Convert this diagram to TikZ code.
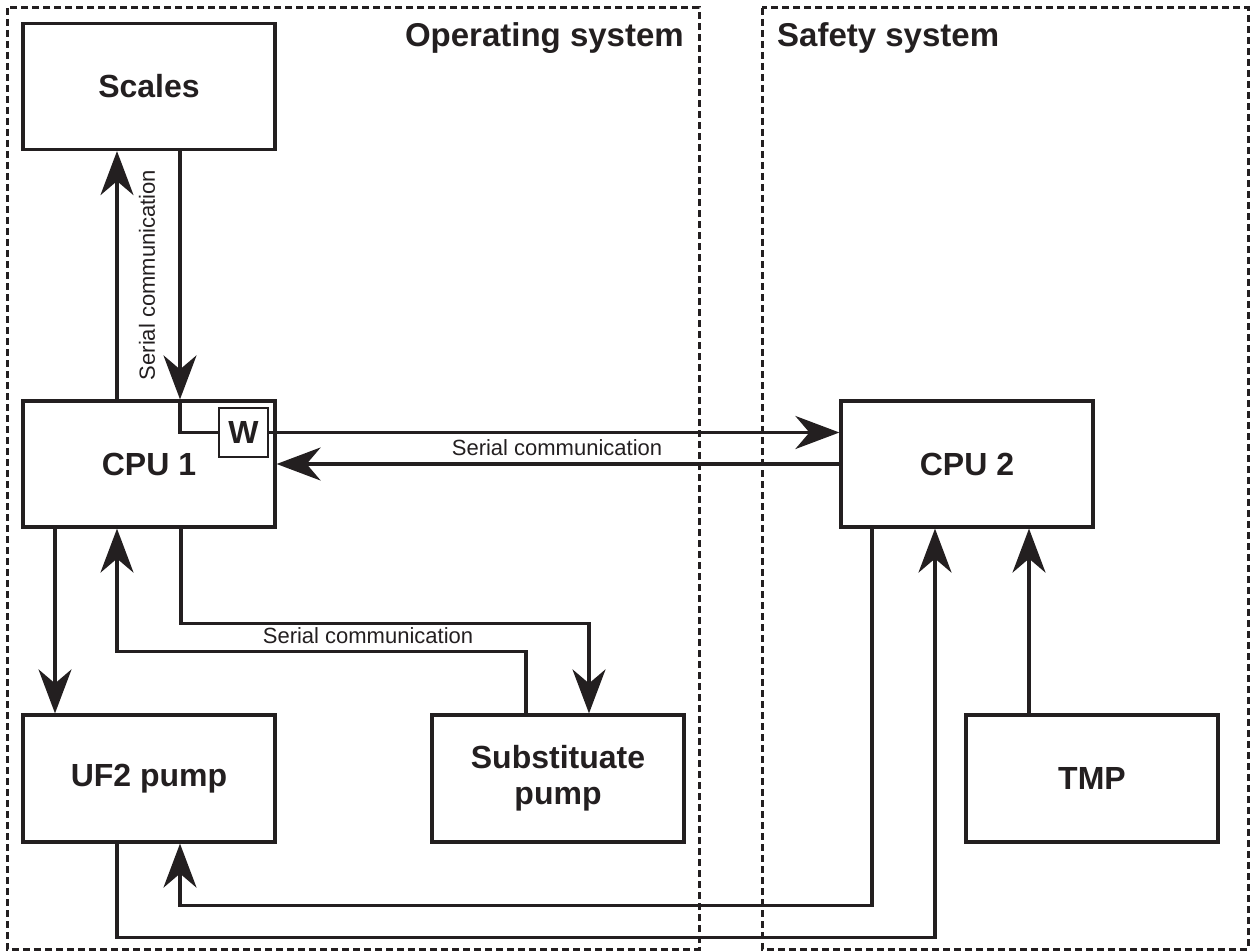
\documentclass[tikz,border=0pt]{standalone}
\usepackage{fontspec}
\setmainfont{Liberation Sans}
\usetikzlibrary{arrows.meta}
\definecolor{ink}{RGB}{35,31,32}
\tikzset{
  box/.style={draw=ink, text=ink, line width=3.2pt, minimum width=252pt, minimum height=126pt,
    font=\fontsize{32}{36}\selectfont\bfseries, align=center, inner sep=0pt},
  wbox/.style={draw=ink, text=ink, line width=2.8pt, minimum size=49pt, inner sep=0pt,
    font=\fontsize{32}{36}\selectfont\bfseries},
  link/.style={draw=ink, line width=3.2pt},
  arr/.style={link, -{Stealth[length=44pt,width=33pt,inset=14pt]}},
  frame/.style={draw=ink, line width=3pt, dash pattern=on 7pt off 4pt},
  title/.style={text=ink, font=\fontsize{33}{38}\selectfont\bfseries, inner sep=0pt},
  note/.style={text=ink, font=\fontsize{22}{26}\selectfont, inner sep=0pt},
}
\begin{document}
\begin{tikzpicture}[x=1pt, y=-1pt]
\useasboundingbox (0,0) rectangle (1250,952);

% system frames
\draw[frame] (7,8) rectangle (699,949);
\draw[frame] (762,8) rectangle (1248,949);
\node[title, anchor=base east] (ostitle) at (684,47) {Operating system};
\node[title, anchor=base west] (sstitle) at (777,47) {Safety system};

% units
\node[box] (scales) at (149,86.5) {Scales};
\node[box] (cpu1) at (149,464) {CPU 1};
\node[box] (cpu2) at (967,464) {CPU 2};
\node[box, minimum height=127pt] (uf2) at (149,778.5) {UF2 pump};
\node[box, minimum height=127pt] (subst) at (558,778.5) {Substituate\\pump};
\node[box, minimum height=127pt] (tmp) at (1092,778.5) {TMP};
\node[wbox] (w) at (243.5,432.5) {W};

% scales <-> CPU 1
\draw[arr] ([xshift=-32pt]cpu1.north) -- ([xshift=-32pt]scales.south);
\draw[arr] ([xshift=31pt]scales.south) -- ([xshift=31pt]cpu1.north);
\draw[link] ([xshift=31pt]cpu1.north) |- (w.west);
\node[note, rotate=90] (sc1) at (147,275) {Serial communication};

% CPU 1 <-> CPU 2
\draw[arr] (w.east) -- (w.east -| cpu2.west);
\draw[arr] (cpu2.west) -- (cpu1.east);
\node[note] (sc2) at (557,448) {Serial communication};

% CPU 1 <-> pumps
\draw[arr] ([xshift=-94pt]cpu1.south) -- ([xshift=-94pt]uf2.north);
\draw[arr] ([xshift=-32pt]subst.north) -- ++(0,-62) -| ([xshift=-32pt]cpu1.south);
\draw[arr] ([xshift=32pt]cpu1.south) -- ++(0,95) -| ([xshift=31pt]subst.north);
\node[note] (sc3) at (368,636) {Serial communication};

% CPU 2 <-> UF2 pump and TMP
\draw[arr] ([xshift=-95pt]cpu2.south) -- ++(0,377) -| ([xshift=31pt]uf2.south);
\draw[arr] ([xshift=-32pt]uf2.south) -- ++(0,94) -| ([xshift=-32pt]cpu2.south);
\draw[arr] ([xshift=-63pt]tmp.north) -- ([xshift=-63pt]tmp.north |- cpu2.south);
\end{tikzpicture}
\end{document}
